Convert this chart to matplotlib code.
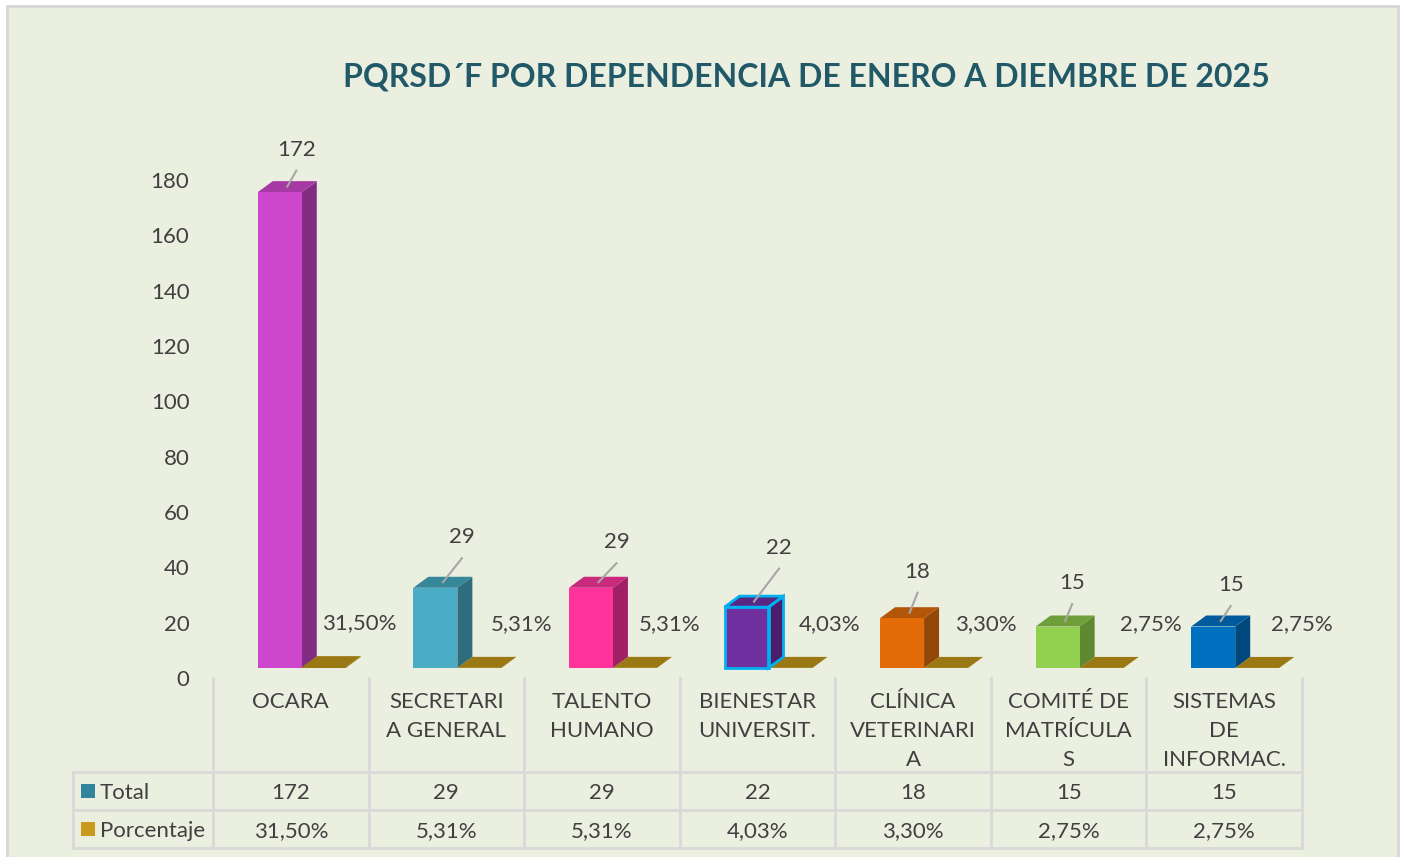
import matplotlib.pyplot as plt
from matplotlib.patches import Polygon, Rectangle
from matplotlib.lines import Line2D

plt.rcParams['font.family'] = ['Lato', 'DejaVu Sans']

categorias = ["OCARA", "SECRETARI\nA GENERAL", "TALENTO\nHUMANO", "BIENESTAR\nUNIVERSIT.",
              "CLÍNICA\nVETERINARI\nA", "COMITÉ DE\nMATRÍCULA\nS", "SISTEMAS\nDE\nINFORMAC."]
total = [172, 29, 29, 22, 18, 15, 15]
porcentaje = [0.3150, 0.0531, 0.0531, 0.0403, 0.0330, 0.0275, 0.0275]
etiquetas_pct = ["31,50%", "5,31%", "5,31%", "4,03%", "3,30%", "2,75%", "2,75%"]

# (frente, arriba, lado)
colores = [("#CC47CC", "#A53AA5", "#832C83"),
           ("#4BACC6", "#37879B", "#2F6C7D"),
           ("#FF3399", "#C92A7C", "#A21F66"),
           ("#7030A0", "#5A2683", "#4A1E6C"),
           ("#E36C09", "#B4560A", "#944706"),
           ("#92D050", "#6F9F3A", "#5E8931"),
           ("#0070C0", "#005A9C", "#00497F")]
# desplazamiento (px) de cada etiqueta de total respecto al centro de la cara superior
desp_etiq = [(9, 37), (19, 45), (18, 40), (25, 54), (8, 41), (7, 38), (10, 36)]
desp_pct = [68, 75, 68, 72, 73, 82, 78]

oro = "#9A7914"
bg = "#EBEFDF"
gris_txt = "#404040"
linea = "#D9D9D9"
fs = 16

W, H = 1404, 857
fig = plt.figure(figsize=(W / 100, H / 100), dpi=100)
fig.patch.set_facecolor("white")


def px(x, y):
    return x / W, 1 - y / H


# marco del grafico
fig.add_artist(Rectangle(px(7, 870), (1398 - 7) / W, (870 - 6) / H, transform=fig.transFigure,
                         facecolor=bg, edgecolor="#D6D6D6", lw=2, zorder=0))

# ejes: x de 213 a 1302 px, y=0 en 678 px, y=180 en 180 px
x0, y0 = px(213, 678)
x1, y1 = px(1302, 180)
ax = fig.add_axes([x0, y0, x1 - x0, y1 - y0])
ax.set_facecolor("none")
ax.set_xlim(-0.5, 6.5)
ax.set_ylim(0, 180)
for s in ax.spines.values():
    s.set_visible(False)
ax.set_xticks([])
ax.set_yticks(range(0, 181, 20))
ax.tick_params(axis="y", length=0, pad=17, labelsize=fs, labelcolor=gris_txt)

ppu_x = (1302 - 213) / 7.0
ppu_y = (678 - 180) / 180.0
base = 10 / ppu_y
dx = 15 / ppu_x
dy = 11 / ppu_y
w = 44 / ppu_x
off = -33 / ppu_x


def caja(x, v, front, top, side, edge=None):
    b = base
    kw = dict(lw=0, clip_on=False, zorder=3)
    frente = [(x, b), (x + w, b), (x + w, b + v), (x, b + v)]
    arriba = [(x, b + v), (x + dx, b + v + dy), (x + w + dx, b + v + dy), (x + w, b + v)]
    lado = [(x + w, b), (x + w + dx, b + dy), (x + w + dx, b + v + dy), (x + w, b + v)]
    ax.add_patch(Polygon(lado, facecolor=side, **kw))
    ax.add_patch(Polygon(arriba, facecolor=top, **kw))
    ax.add_patch(Polygon(frente, facecolor=front, **kw))
    if edge:
        for poly in (frente, arriba, lado):
            ax.add_patch(Polygon(poly, fill=False, edgecolor=edge, lw=2, clip_on=False, zorder=4))


for i, (t, p) in enumerate(zip(total, porcentaje)):
    f, tp, sd = colores[i]
    xa = i + off
    caja(xa, t, f, tp, sd, edge="#00B0F0" if i == 3 else None)
    # serie porcentaje (casi plana)
    xb = xa + w
    caja(xb, p, oro, oro, oro)
    # etiqueta total con linea guia
    cx = xa + w / 2 + dx / 2
    ty = base + t + dy / 2
    ex, ey = desp_etiq[i]
    lx = cx + ex / ppu_x
    ly = ty + ey / ppu_y
    ax.add_line(Line2D([cx, lx], [ty, ly - 21 / ppu_y], color="#A6A6A6", lw=1.5,
                       clip_on=False, zorder=5))
    ax.text(lx, ly, str(t), ha="center", va="center", fontsize=fs, color=gris_txt, clip_on=False)
    # etiqueta porcentaje
    ax.text(i + desp_pct[i] / ppu_x, p + 54 / ppu_y, etiquetas_pct[i], ha="center", va="center",
            fontsize=fs, color=gris_txt, clip_on=False)

# titulo
fig.text(*px(806, 77), "PQRSD´F POR DEPENDENCIA DE ENERO A DIEMBRE DE 2025", ha="center", va="center",
         fontsize=23, fontweight="bold", color="#215968")

# tabla de datos
cols = [213 + ppu_x * k for k in range(8)]


def hl(xa_, xb_, y):
    fig.add_artist(Line2D([xa_ / W, xb_ / W], [1 - y / H, 1 - y / H], color=linea, lw=2))


def vl(x, ya, yb):
    fig.add_artist(Line2D([x / W, x / W], [1 - ya / H, 1 - yb / H], color=linea, lw=2))


for c in cols:
    vl(c, 678, 848)
vl(73, 772, 848)
for y in (772, 810, 848):
    hl(73, 1302, y)

for i, cat in enumerate(categorias):
    cx = (cols[i] + cols[i + 1]) / 2
    fig.text(*px(cx, 692), cat, ha="center", va="top", fontsize=fs, color=gris_txt, linespacing=1.56)
    fig.text(*px(cx, 793), str(total[i]), ha="center", va="center", fontsize=fs, color=gris_txt)
    fig.text(*px(cx, 831), etiquetas_pct[i], ha="center", va="center", fontsize=fs, color=gris_txt)

fig.add_artist(Rectangle(px(81, 798), 14 / W, 14 / H, transform=fig.transFigure,
                         facecolor="#31849B", lw=0))
fig.add_artist(Rectangle(px(81, 836), 14 / W, 14 / H, transform=fig.transFigure,
                         facecolor="#C99A1E", lw=0))
fig.text(*px(100, 793), "Total", ha="left", va="center", fontsize=fs, color=gris_txt)
fig.text(*px(100, 831), "Porcentaje", ha="left", va="center", fontsize=fs, color=gris_txt)

fig.savefig("out.png", dpi=100, facecolor=fig.get_facecolor())
